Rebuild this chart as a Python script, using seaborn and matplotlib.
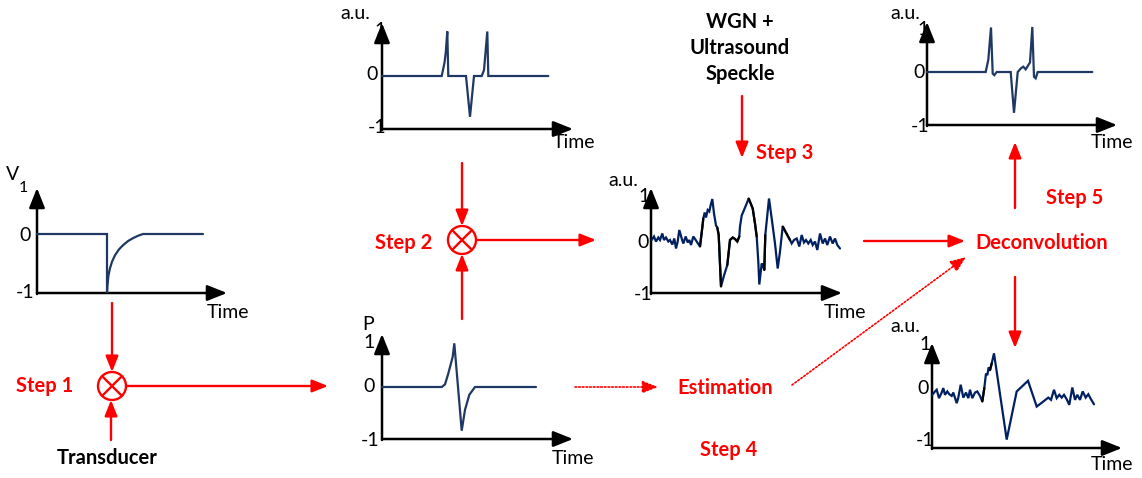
import numpy as np
import pandas as pd
import matplotlib
matplotlib.use("Agg")
import matplotlib.pyplot as plt
import seaborn as sns
from matplotlib.patches import FancyArrowPatch, Circle

# ---------------- data (time in sample units, amplitude in a.u.) ----------------
# Step 1 input: driving voltage V1
A_t = [0, 70, 70, 70.5, 71.5, 73, 75, 78, 82, 86, 91, 96, 101, 106, 166]
A_v = [0, 0, -1, -0.85, -0.7, -0.58, -0.47, -0.36, -0.26, -0.19, -0.12, -0.07, -0.03, 0, 0]

# Reflectivity (top middle)
B_t = [0, 59.7, 62.5, 63.8, 65.3, 66.3, 84, 88, 92, 99.7, 102, 105.3, 106.3, 166.3]
B_v = [0, 0, 0.25, 0.45, 0.84, 0, 0, -0.77, 0, 0, 0.11, 0.84, 0, 0]

# Pressure pulse P (bottom middle)
D_t = [0, 59.7, 63, 66.3, 70.7, 72.3, 79.7, 83, 87.3, 93, 154]
D_v = [0, 0, 0.05, 0.26, 0.58, 0.84, -0.84, -0.44, -0.15, 0, 0]

# Noisy RF signal (centre)
C_t = [0.7, 3, 5, 7.3, 9, 11.3, 13, 15, 17.3, 19, 21.3, 23.3, 25, 26.7, 28.3, 30.7, 32.3,
       34.7, 36.7, 38.3, 40, 42.3, 44.7, 46.3, 49, 51.3, 52.3, 53.7, 55, 56.7, 58.3, 59.7,
       61.3, 63, 65, 66.3, 67.7, 70, 73, 76.3, 79, 81.7, 84, 86.3, 88.3, 89, 90.7, 93, 95.7,
       97.7, 101.7, 104, 105.7, 107.3, 108.3, 110.7, 112.3, 113.3, 114.3, 118, 120.7, 124,
       126.7, 129, 131.7, 139, 140.7, 143, 145.7, 148.3, 150.7, 153, 155, 157.3, 159.7,
       161.7, 164, 166.3, 169, 171.7, 174, 176.3, 179, 181.7, 184, 186.3, 189]
C_v = [0.06, 0.13, 0.03, 0.11, 0.06, 0.19, 0.06, 0.11, 0.03, 0.06, -0.03, 0.09, -0.11, 0.03,
       0.26, 0.09, -0.01, 0.13, 0.01, 0.06, -0.04, 0.13, 0.06, 0.01, -0.07, 0.31, 0.49, 0.61,
       0.51, 0.66, 0.63, 0.76, 0.88, 0.59, 0.35, 0.31, 0.16, -0.87, -0.65, -0.44, 0.06, 0.11,
       0.08, 0.03, 0.13, 0.33, 0.55, 0.66, 0.79, 0.89, 0.69, 0.39, 0.13, -0.37, -0.83, -0.41,
       -0.47, -0.54, 0.16, 0.89, 0.49, -0.01, -0.51, -0.17, 0.33, 0.06, -0.01, 0.06, 0.09,
       -0.07, 0.16, 0.01, 0.06, -0.01, 0.06, -0.04, 0.03, -0.14, 0.19, -0.01, 0.09, -0.04,
       0.13, -0.01, 0.09, -0.04, -0.11]
C_clean = [(24, 26), (35, 37), (39, 44), (49, 52), (57, 58), (64, 65)]  # index ranges shown in black

# Deconvolved reflectivity (top right)
E_t = [0, 58.7, 61.3, 64, 65.7, 67.3, 69.7, 83.7, 87, 90.7, 94, 96.3, 98.7, 101.3, 103,
       105.3, 107, 108.7, 110.7, 165.3]
E_v = [0, 0, 0.23, 0.84, -0.03, -0.06, 0, 0, -0.77, 0, 0.07, 0.1, 0.05, 0.13, 0.18,
       0.85, -0.09, -0.12, 0, 0]

# Deconvolution output (bottom right)
F_t = [0.3, 3, 4.7, 7, 9.7, 11.3, 13, 15.3, 17.3, 19.7, 21.3, 24.7, 26.3, 28.7, 31.3, 34,
       36.3, 38, 40.3, 43, 45.3, 48, 50.3, 52.3, 54, 55.3, 56.7, 58, 59.7, 62, 74.7, 84.7, 96,
       104.7, 111.3, 116.3, 119, 122, 124.7, 127.3, 129.7, 132, 134.7, 137.3, 140.3, 143,
       145.3, 148, 150.7, 153.7, 156.3, 159, 162]
F_v = [-0.05, 0.01, 0.04, -0.11, -0.01, 0.07, -0.05, 0.01, -0.04, -0.07, -0.01, -0.2, -0.1,
       0.13, -0.1, -0.01, -0.11, 0.04, -0.11, -0.01, 0.01, -0.07, -0.17, 0.07, 0.33, 0.3,
       0.44, 0.39, 0.51, 0.69, -0.85, 0.01, 0.2, -0.26, -0.17, -0.1, -0.14, 0.04, -0.11,
       -0.05, -0.1, -0.05, -0.13, -0.23, 0.08, -0.14, -0.05, -0.14, 0.01, -0.1, -0.04,
       -0.13, -0.22]
F_clean = [(22, 23), (27, 28)]

tick_labels = ["1", "0", "-1"]

# ---------------- figure ----------------
W, H = 1142, 478
sns.set_style("white")
plt.rcParams["font.family"] = ["Lato", "DejaVu Sans"]
fig = plt.figure(figsize=(W / 100, H / 100), dpi=100)
ax0 = fig.add_axes([0, 0, 1, 1])
ax0.set_xlim(0, W)
ax0.set_ylim(H, 0)
ax0.axis("off")

RED = "#FF0000"
CLEAN = "#1F3864"
NOISY = "#002060"
REG = 14     # regular label size
BOLD = 14.5  # bold label size

# layout of panels: (y-axis x, arrow top y, arrow right x, x-axis y, zero-level y)
BOX = {
    "A": (37, 188, 227, 293, 234),
    "B": (382, 23, 573, 129, 76),
    "C": (651, 188, 842, 293, 243),
    "D": (382, 334, 573, 439, 387),
    "E": (927, 22, 1117, 125, 72),
    "F": (932, 343, 1122, 448, 392),
}


def axis_arrow(p0, p1):
    ax0.add_patch(FancyArrowPatch(p0, p1, arrowstyle="-|>,head_length=12,head_width=4.8",
                                  mutation_scale=1, color="black", lw=1.8,
                                  shrinkA=0, shrinkB=0, zorder=2))


def panel(key):
    ox, top, right, xb, y0 = BOX[key]
    axis_arrow((ox, xb), (right, xb))
    axis_arrow((ox, xb + 1), (ox, top))
    ax = fig.add_axes([ox / W, 1 - xb / H, (right - ox) / W, (xb - top) / H])
    unit = xb - y0
    ax.set_xlim(0, right - ox)
    ax.set_ylim(-1, (y0 - top) / unit)
    ax.axis("off")
    ax.patch.set_alpha(0)
    return ax


def trace(ax, t, v, color, clean=()):
    df = pd.DataFrame({"t": t, "v": v})
    sns.lineplot(data=df, x="t", y="v", ax=ax, color=color, lw=1.6,
                 estimator=None, sort=False, legend=False)
    for i0, i1 in clean:
        sns.lineplot(data=df.iloc[i0:i1 + 1], x="t", y="v", ax=ax, color="black", lw=1.6,
                     estimator=None, sort=False, legend=False)
    for ln in ax.lines:
        ln.set_clip_on(False)
        ln.set_solid_joinstyle("miter")


trace(panel("A"), A_t, A_v, CLEAN)
trace(panel("B"), B_t, B_v, CLEAN)
trace(panel("C"), C_t, C_v, NOISY, C_clean)
trace(panel("D"), D_t, D_v, CLEAN)
trace(panel("E"), E_t, E_v, CLEAN)
trace(panel("F"), F_t, F_v, NOISY, F_clean)


def txt(x, y, s, size=REG, bold=False, color="black", ha="center"):
    ax0.text(x, y, s, fontsize=size, fontweight="bold" if bold else "normal",
             color=color, ha=ha, va="center")


# panel labels
txt(13, 175, "V")
txt(23, 188, "1", size=11.5)
txt(355, 13, "a.u.")
txt(623, 180, "a.u.")
txt(905, 13, "a.u.")
txt(905, 327, "a.u.")
txt(368, 325, "P")

# tick labels: (x, y) for "1", "0", "-1"
TICKS = {
    "A": [None, (25, 235), (25, 292)],
    "B": [(380, 30), (372, 74), (377, 127)],
    "C": [(644, 197), (643, 242), (643, 294)],
    "D": [(369, 343), (369, 387), (370, 441)],
    "E": [(923, 29), (919, 72), (920, 126)],
    "F": [(925, 345), (923, 389), (925, 441)],
}
for k, pos in TICKS.items():
    for lab, p in zip(tick_labels, pos):
        if p is not None:
            txt(p[0], p[1], lab)

for x, y in [(228, 313), (574, 143), (845, 312), (573, 458), (1112, 143), (1112, 465)]:
    txt(x, y, "Time")

# step / block labels
txt(45, 386, "Step 1", size=BOLD, bold=True, color=RED)
txt(404, 243, "Step 2", size=BOLD, bold=True, color=RED)
txt(785, 153, "Step 3", size=BOLD, bold=True, color=RED)
txt(729, 450, "Step 4", size=BOLD, bold=True, color=RED)
txt(1075, 198, "Step 5", size=BOLD, bold=True, color=RED)
txt(725, 388, "Estimation", size=BOLD, bold=True, color=RED)
txt(1042, 243, "Deconvolution", size=BOLD, bold=True, color=RED)
txt(107, 458, "Transducer", size=BOLD, bold=True)
txt(740, 22, "WGN +", size=BOLD, bold=True)
txt(740, 48, "Ultrasound", size=BOLD, bold=True)
txt(740, 74, "Speckle", size=BOLD, bold=True)


def red_arrow(p0, p1, dotted=False):
    ax0.add_patch(FancyArrowPatch(p0, p1, arrowstyle="-|>,head_length=9.5,head_width=3.8",
                                  mutation_scale=1, color=RED,
                                  lw=1.2 if dotted else 1.7,
                                  linestyle=(0, (1, 1.2)) if dotted else "-",
                                  shrinkA=0, shrinkB=0, zorder=3))


def mixer(x, y, r=14):
    ax0.add_patch(Circle((x, y), r, fill=False, ec=RED, lw=1.7, zorder=3))
    d = r / np.sqrt(2)
    ax0.plot([x - d, x + d], [y - d, y + d], color=RED, lw=1.7)
    ax0.plot([x - d, x + d], [y + d, y - d], color=RED, lw=1.7)


mixer(112, 386)
red_arrow((112, 303), (112, 372))
red_arrow((111, 440), (111, 400))
red_arrow((126, 386), (328, 386))

mixer(462, 240)
red_arrow((462, 163), (462, 226))
red_arrow((462, 319), (462, 254))
red_arrow((476, 240), (596, 240))

red_arrow((742, 96), (742, 158))
red_arrow((864, 241), (965, 241))
red_arrow((575, 387), (658, 387), dotted=True)
red_arrow((792, 385), (966, 257), dotted=True)
red_arrow((1015, 277), (1015, 348))
red_arrow((1015, 208), (1015, 142))

fig.savefig("out.png", dpi=100)
